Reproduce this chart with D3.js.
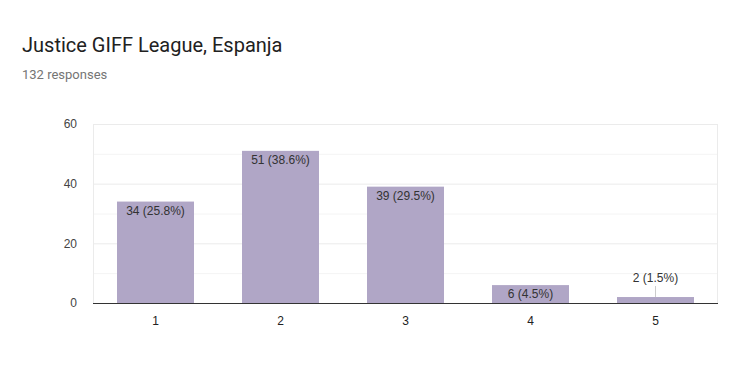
<!DOCTYPE html>
<html>
<head>
<meta charset="utf-8">
<script src="https://d3js.org/d3.v7.min.js"></script>
<style>
	body { margin: 0; background: #fff; }
	text { font-family: "Liberation Sans", Arial, sans-serif; }
	.head { font-family: Roboto, Arial, sans-serif; }
</style>
</head>
<body>
<svg id="chart" width="740" height="379"></svg>
<script>
	var categories = ["1", "2", "3", "4", "5"];
	var counts = [34, 51, 39, 6, 2];
	var labels = ["34 (25.8%)", "51 (38.6%)", "39 (29.5%)", "6 (4.5%)", "2 (1.5%)"];
	var yTicks = [0, 20, 40, 60];
	var yGrid = [10, 20, 30, 40, 50, 60];

	var svg = d3.select("#chart");
	var plotL = 93, plotR = 718, plotT = 124, plotB = 303;

	var x = d3.scaleBand().domain(categories).range([plotL, plotR]).paddingInner(0.384).paddingOuter(0.192);
	var y = d3.scaleLinear().domain([0, 60]).range([plotB, plotT]);

	svg.append("text").attr("class", "head").attr("x", 22).attr("y", 52)
		.style("font-size", "20px").style("fill", "#212121")
		.text("Justice GIFF League, Espanja");
	svg.append("text").attr("class", "head").attr("x", 22).attr("y", 79)
		.style("font-size", "13px").style("fill", "#757575")
		.text("132 responses");

	// grid
	svg.selectAll(".grid").data(yGrid).enter().append("line")
		.attr("x1", plotL).attr("x2", plotR)
		.attr("y1", d => y(d) + 0.5).attr("y2", d => y(d) + 0.5)
		.attr("stroke", d => d % 20 == 0 ? "#ebebeb" : "#f4f4f4");
	svg.append("line").attr("x1", plotL + 0.5).attr("x2", plotL + 0.5).attr("y1", plotT).attr("y2", plotB).attr("stroke", "#ebebeb");
	svg.append("line").attr("x1", plotR - 0.5).attr("x2", plotR - 0.5).attr("y1", plotT).attr("y2", plotB).attr("stroke", "#ebebeb");

	// bars
	svg.selectAll(".bar").data(counts).enter().append("rect")
		.attr("x", (d, i) => x(categories[i]))
		.attr("y", d => y(d))
		.attr("width", x.bandwidth())
		.attr("height", d => plotB - y(d))
		.attr("fill", "#b0a6c6");

	// labels
	svg.selectAll(".lbl").data(counts).enter().append("text")
		.attr("x", (d, i) => x(categories[i]) + x.bandwidth() / 2)
		.attr("y", (d, i) => (plotB - y(d)) > 15 ? y(d) + 13 : y(d) - 15)
		.attr("text-anchor", "middle")
		.style("font-size", "12px").style("fill", "#333")
		.text((d, i) => labels[i]);
	// leader for small bars
	counts.forEach(function(d, i) {
		if ((plotB - y(d)) <= 15) {
			var cx = x(categories[i]) + x.bandwidth() / 2;
			svg.append("line").attr("x1", cx).attr("x2", cx)
				.attr("y1", y(d) - 11).attr("y2", y(d))
				.attr("stroke", "#ccc").attr("stroke-width", 1);
		}
	});

	// baseline
	svg.append("line").attr("x1", plotL).attr("x2", plotR).attr("y1", plotB + 0.5).attr("y2", plotB + 0.5).attr("stroke", "#333");

	// axes
	var yAxis = svg.append("g").attr("transform", "translate(" + (plotL - 13) + ",0)")
		.call(d3.axisLeft(y).tickValues(yTicks).tickSize(0));
	yAxis.select(".domain").remove();
	yAxis.selectAll("text").style("font-size", "12px").style("fill", "#444").attr("dy", "0.32em");

	var xAxis = svg.append("g").attr("transform", "translate(0," + (plotB + 10) + ")")
		.call(d3.axisBottom(x).tickSize(0));
	xAxis.select(".domain").remove();
	xAxis.selectAll("text").style("font-size", "12px").style("fill", "#222");
</script>
</body>
</html>
